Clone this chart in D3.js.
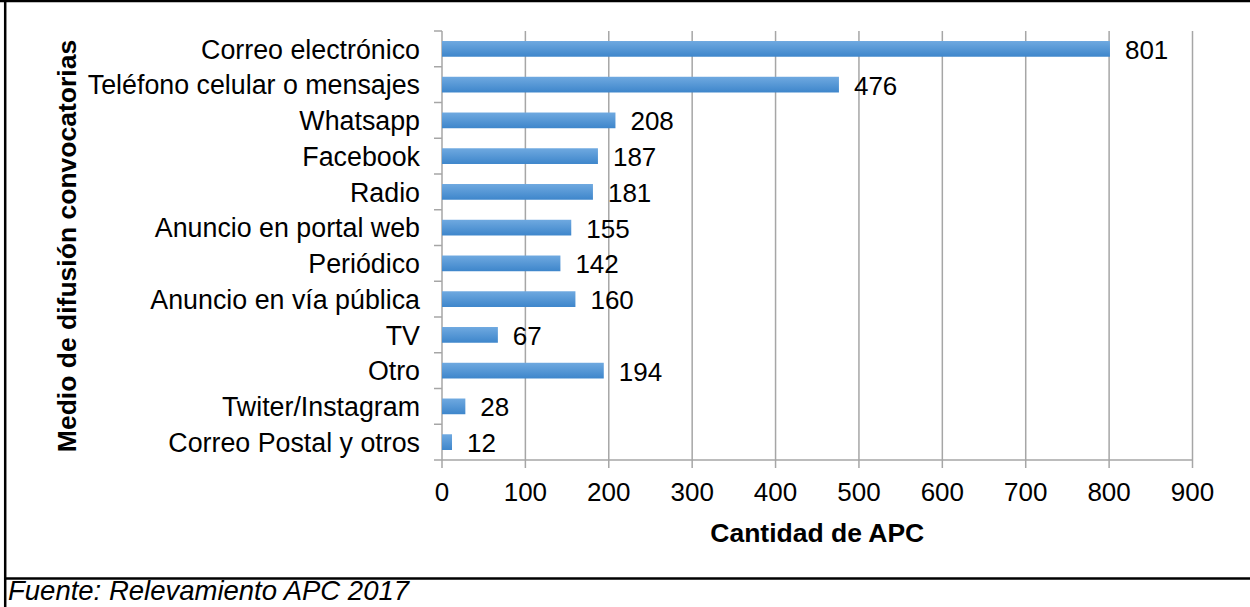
<!DOCTYPE html>
<html><head><meta charset="utf-8">
<script src="https://cdn.jsdelivr.net/npm/d3@7"></script>
<style>body{margin:0;background:#fff}svg{display:block;font-family:"Liberation Sans",Arial,sans-serif}</style>
</head><body><svg id="c" width="1250" height="607"></svg>
<script>
const categories = ["Correo electrónico","Teléfono celular o mensajes","Whatsapp","Facebook","Radio","Anuncio en portal web","Periódico","Anuncio en vía pública","TV","Otro","Twiter/Instagram","Correo Postal y otros"];
const values = [801,476,208,187,181,155,142,160,67,194,28,12];
const xTicks = [0,100,200,300,400,500,600,700,800,900];
const yTitle = "Medio de difusión convocatorias";
const xTitle = "Cantidad de APC";
const footer = "Fuente: Relevamiento APC 2017";

const svg = d3.select("#c");
const L = 442, R = 1192.5, T = 31, B = 460;
const x = d3.scaleLinear().domain([0,900]).range([L,R]);
const y = d3.scaleBand().domain(categories).range([T,B]).paddingInner(0.56).paddingOuter(0.28);

const defs = svg.append("defs");
const g = defs.append("linearGradient").attr("id","bg").attr("x1",0).attr("y1",0).attr("x2",0).attr("y2",1);
g.append("stop").attr("offset","0%").attr("stop-color","#6fa9e0");
g.append("stop").attr("offset","100%").attr("stop-color","#3e86cb");

// frame
svg.append("line").attr("x1",0).attr("x2",1250).attr("y1",1).attr("y2",1).attr("stroke","#000").attr("stroke-width",2.5);
svg.append("line").attr("x1",5.2).attr("x2",5.2).attr("y1",0).attr("y2",607).attr("stroke","#000").attr("stroke-width",2.5);
svg.append("line").attr("x1",4).attr("x2",1250).attr("y1",578.5).attr("y2",578.5).attr("stroke","#000").attr("stroke-width",2.5);

// gridlines
svg.append("g").selectAll("line").data(xTicks.slice(1)).join("line")
  .attr("x1",d=>x(d)).attr("x2",d=>x(d)).attr("y1",T).attr("y2",B+8)
  .attr("stroke","#a6a6a6").attr("stroke-width",1.5);

// axis lines
svg.append("line").attr("x1",L-8).attr("x2",R).attr("y1",B).attr("y2",B).attr("stroke","#a6a6a6").attr("stroke-width",1.5);
svg.append("line").attr("x1",L).attr("x2",L).attr("y1",T).attr("y2",B+8).attr("stroke","#a6a6a6").attr("stroke-width",1.5);
const step = (B-T)/categories.length;
svg.append("g").selectAll("line").data(d3.range(categories.length)).join("line")
  .attr("x1",L-8).attr("x2",L).attr("y1",d=>T+d*step).attr("y2",d=>T+d*step)
  .attr("stroke","#a6a6a6").attr("stroke-width",1.5);

// bars
svg.append("g").selectAll("rect").data(values).join("rect")
  .attr("x",x(0)).attr("y",(d,i)=>y(categories[i]))
  .attr("width",d=>x(d)-x(0)).attr("height",y.bandwidth())
  .attr("fill","url(#bg)");

// value labels
svg.append("g").selectAll("text").data(values).join("text")
  .attr("x",d=>x(d)+15).attr("y",(d,i)=>y(categories[i])+y.bandwidth()/2)
  .attr("dy","0.38em").attr("font-size",26).attr("fill","#000").text(d=>d);

// category labels
svg.append("g").selectAll("text").data(categories).join("text")
  .attr("x",420).attr("y",d=>y(d)+y.bandwidth()/2).attr("dy","0.36em")
  .attr("text-anchor","end").attr("font-size",26.8).attr("fill","#000").text(d=>d);

// x tick labels
svg.append("g").selectAll("text").data(xTicks).join("text")
  .attr("x",d=>x(d)).attr("y",501).attr("text-anchor","middle")
  .attr("font-size",26).attr("fill","#000").text(d=>d);

// titles
svg.append("text").attr("x",(L+R)/2).attr("y",542).attr("text-anchor","middle")
  .attr("font-size",26.5).attr("font-weight","bold").text(xTitle);
svg.append("text").attr("transform","translate(76,246) rotate(-90)").attr("text-anchor","middle")
  .attr("font-size",26.5).attr("font-weight","bold").text(yTitle);

svg.append("text").attr("x",8).attr("y",600).attr("font-size",27.5).attr("font-style","italic").text(footer);
</script></body></html>
